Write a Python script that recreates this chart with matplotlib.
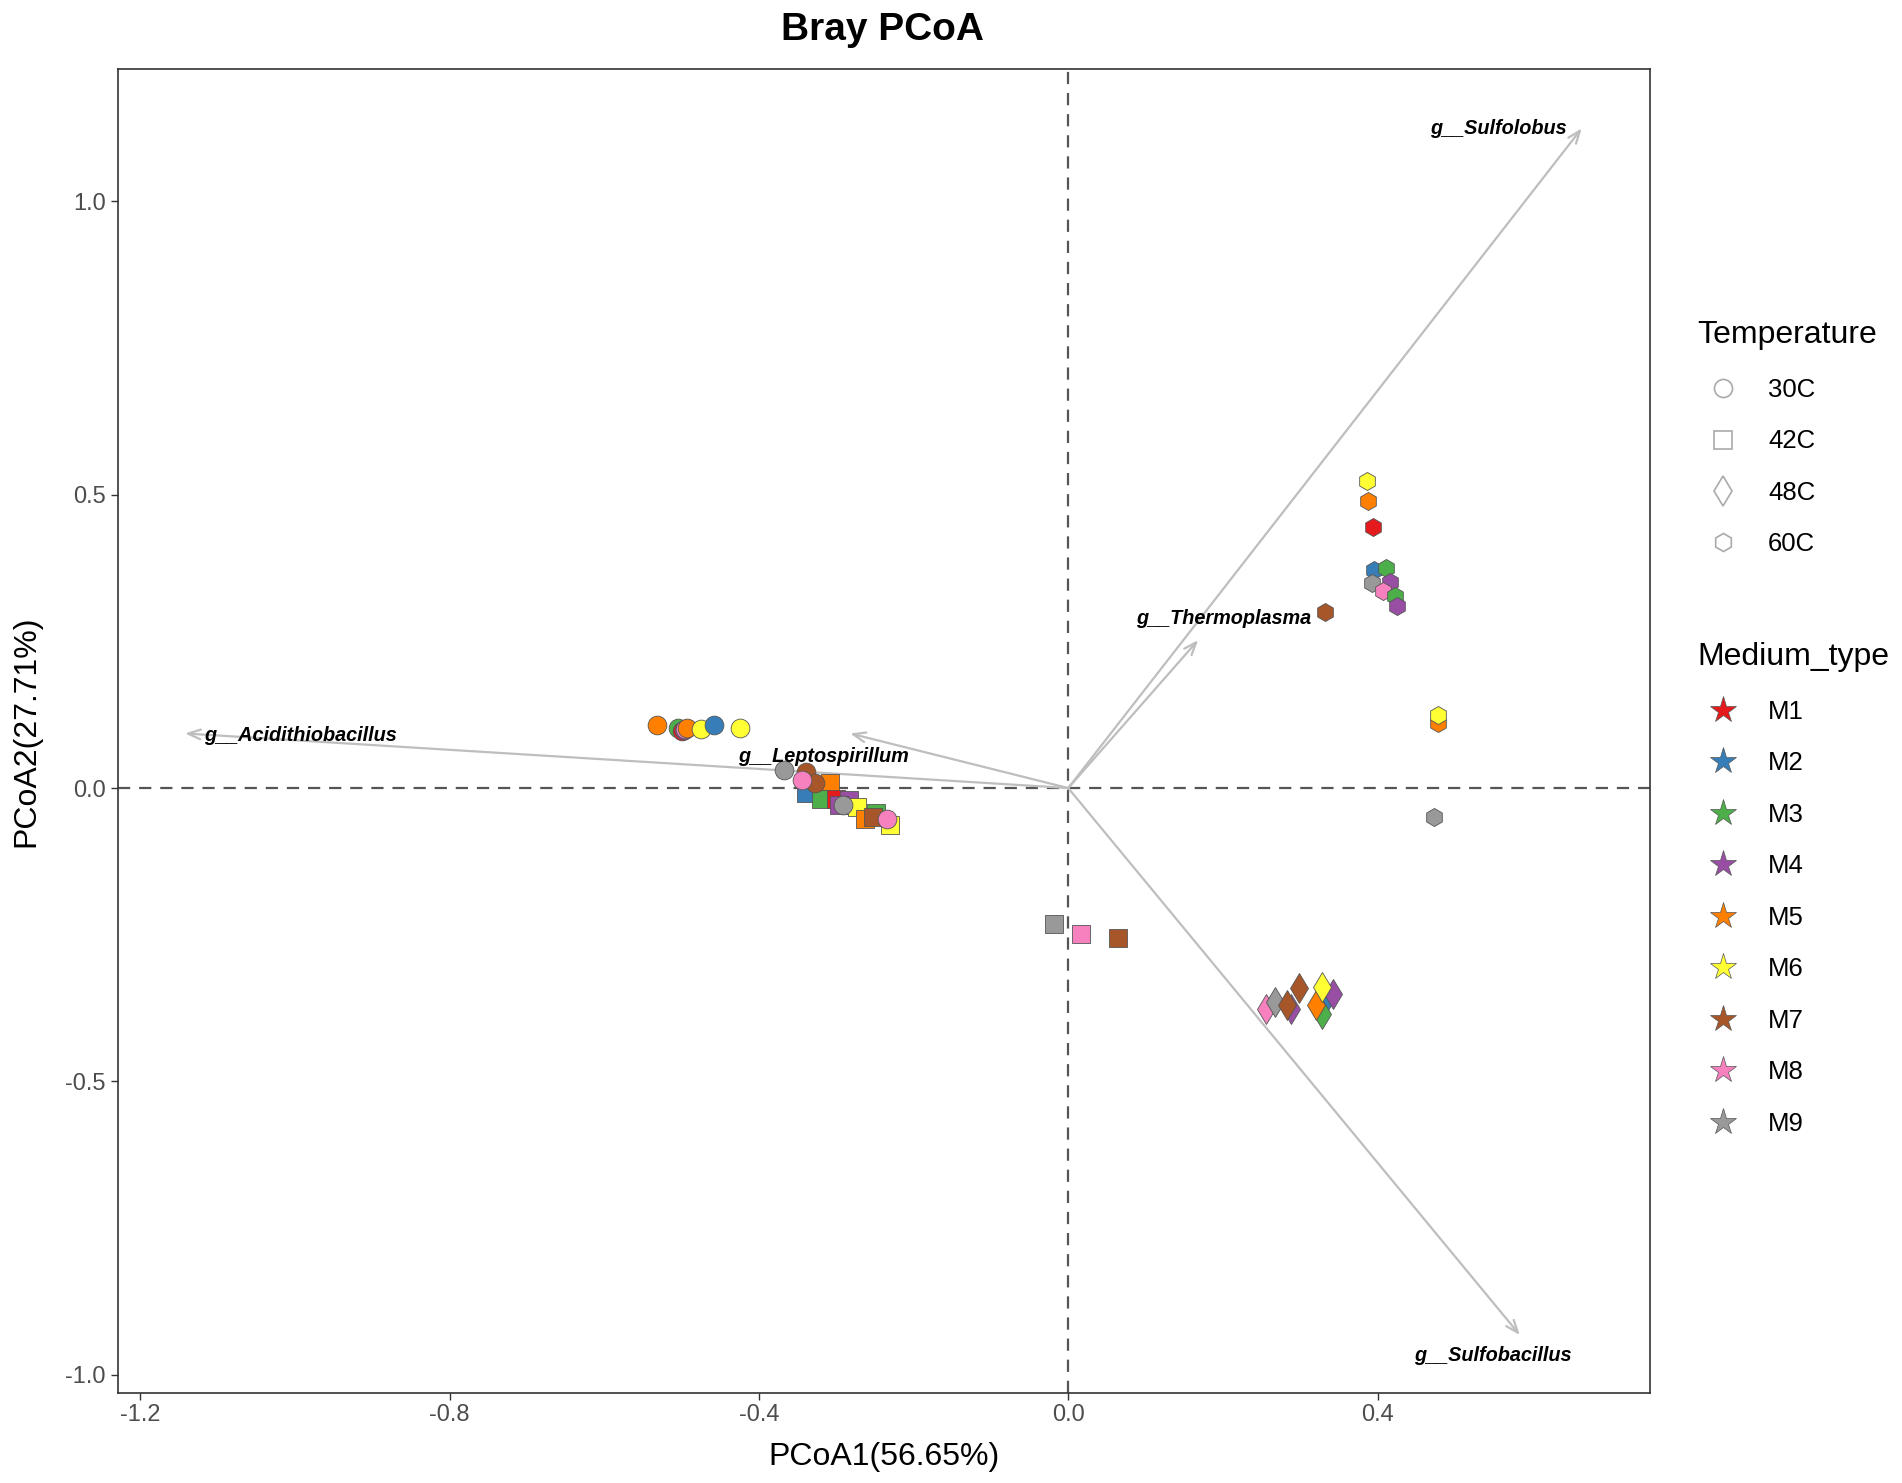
import numpy as np
import pandas as pd
import matplotlib
matplotlib.use("Agg")
import matplotlib.pyplot as plt
from matplotlib.lines import Line2D

plt.rcParams['font.family'] = ['Liberation Sans', 'DejaVu Sans']
plt.rcParams['axes.unicode_minus'] = False

# sample scores (PCoA1, PCoA2)
temp_levels = ['30C', '42C', '48C', '60C']
medium_levels = ['M1', 'M2', 'M3', 'M4', 'M5', 'M6', 'M7', 'M8', 'M9']
medium_colors = ['#E41A1C', '#377EB8', '#4DAF4A', '#984EA3', '#FF7F00',
                 '#FFFF33', '#A65628', '#F781BF', '#999999']

# 42C
sq_x = [-0.308, -0.339, -0.320, -0.300, -0.284, -0.297, -0.273, -0.263, -0.248, -0.253, -0.231, -0.019, 0.016, 0.064]
sq_y = [0.008, -0.009, -0.018, -0.018, -0.020, -0.029, -0.032, -0.052, -0.043, -0.049, -0.063, -0.231, -0.249, -0.256]
sq_m = ['M5', 'M2', 'M3', 'M1', 'M4', 'M4', 'M6', 'M5', 'M3', 'M7', 'M6', 'M9', 'M8', 'M7']

# 30C
ci_x = [-0.532, -0.504, -0.499, -0.497, -0.495, -0.493, -0.475, -0.458, -0.424, -0.368, -0.339, -0.327, -0.344, -0.291, -0.234]
ci_y = [0.107, 0.103, 0.097, 0.099, 0.100, 0.103, 0.100, 0.107, 0.102, 0.031, 0.028, 0.008, 0.014, -0.029, -0.052]
ci_m = ['M5', 'M3', 'M1', 'M4', 'M8', 'M5', 'M6', 'M2', 'M6', 'M9', 'M7', 'M7', 'M8', 'M9', 'M8']

# 48C
di_x = [0.256, 0.268, 0.288, 0.283, 0.298, 0.332, 0.342, 0.328, 0.321, 0.328]
di_y = [-0.376, -0.365, -0.376, -0.370, -0.340, -0.361, -0.351, -0.385, -0.370, -0.339]
di_m = ['M8', 'M9', 'M4', 'M7', 'M7', 'M2', 'M4', 'M3', 'M5', 'M6']

# 60C
hx_x = [0.386, 0.388, 0.394, 0.395, 0.411, 0.393, 0.416, 0.407, 0.423, 0.425, 0.332, 0.478, 0.478, 0.473]
hx_y = [0.523, 0.489, 0.444, 0.372, 0.375, 0.349, 0.351, 0.336, 0.328, 0.311, 0.300, 0.110, 0.124, -0.050]
hx_m = ['M6', 'M5', 'M1', 'M2', 'M3', 'M9', 'M4', 'M8', 'M3', 'M4', 'M7', 'M5', 'M6', 'M9']

# genus arrows (end points) and label positions
genus = ['g__Sulfolobus', 'g__Thermoplasma', 'g__Acidithiobacillus', 'g__Leptospirillum', 'g__Sulfobacillus']
arrow_x = [0.664, 0.168, -1.142, -0.282, 0.584]
arrow_y = [1.124, 0.252, 0.093, 0.093, -0.932]
label_x = [0.556, 0.201, -0.993, -0.316, 0.549]
label_y = [1.124, 0.289, 0.089, 0.053, -0.967]

df = pd.concat([
    pd.DataFrame({'x': sq_x, 'y': sq_y, 'temp': '42C', 'medium': sq_m}),
    pd.DataFrame({'x': ci_x, 'y': ci_y, 'temp': '30C', 'medium': ci_m}),
    pd.DataFrame({'x': di_x, 'y': di_y, 'temp': '48C', 'medium': di_m}),
    pd.DataFrame({'x': hx_x, 'y': hx_y, 'temp': '60C', 'medium': hx_m}),
], ignore_index=True)

temp_marker = {'30C': 'o', '42C': 's', '48C': 'd', '60C': 'h'}
temp_size = {'30C': 13.5, '42C': 12.5, '48C': 15, '60C': 13}
col = dict(zip(medium_levels, medium_colors))

fig = plt.figure(figsize=(19.02, 14.83), dpi=100)
ax = fig.add_axes([0.0619, 0.0610, 0.8055, 0.8924])

ax.axhline(0, color='#555555', lw=1.6, ls=(0, (5.5, 4)), zorder=1)
ax.axvline(0, color='#555555', lw=1.6, ls=(0, (5.5, 4)), zorder=1)

for i, r in df.iterrows():
    ax.plot(r['x'], r['y'], marker=temp_marker[r['temp']], ms=temp_size[r['temp']],
            mfc=col[r['medium']], mec='#555555', mew=0.6, ls='none', zorder=3)

for g, ex, ey, lx, ly in zip(genus, arrow_x, arrow_y, label_x, label_y):
    ax.annotate('', xy=(ex, ey), xytext=(0, 0),
                arrowprops=dict(arrowstyle='->,head_length=0.9,head_width=0.35',
                                color='#BEBEBE', lw=1.6, shrinkA=0, shrinkB=0), zorder=2)
    ax.text(lx, ly, g, fontsize=14.3, fontweight='bold', fontstyle='italic',
            ha='center', va='center', color='black', zorder=4)

ax.set_xlim(-1.229, 0.752)
ax.set_ylim(-1.030, 1.225)
ax.set_xticks([-1.2, -0.8, -0.4, 0.0, 0.4])
ax.set_yticks([-1.0, -0.5, 0.0, 0.5, 1.0])
ax.tick_params(labelsize=17, colors='#333333', labelcolor='#4D4D4D', length=5, width=1)
for s in ax.spines.values():
    s.set_color('#333333')
    s.set_linewidth(1.2)

ax.set_xlabel('PCoA1(56.65%)', fontsize=23)
ax.set_ylabel('PCoA2(27.71%)', fontsize=23)
ax.xaxis.set_label_coords(0.5, -0.037)
ax.yaxis.set_label_coords(-0.05, 0.5)
fig.text(0.464, 0.980, 'Bray PCoA', fontsize=28, fontweight='bold', ha='center', va='center')

temp_handles = [Line2D([], [], marker=temp_marker[t], ls='none', ms=13 if t != '48C' else 15,
                       mfc='none', mec='#AAAAAA', mew=1.2) for t in temp_levels]
leg1 = fig.legend(temp_handles, temp_levels, title='Temperature', loc='upper left',
                  bbox_to_anchor=(0.887, 0.791), frameon=False, fontsize=18.5,
                  title_fontsize=23, labelspacing=1.07, handletextpad=0.75,
                  borderaxespad=0, alignment='left')
leg1._legend_box.sep = 20

med_handles = [Line2D([], [], marker='*', ls='none', ms=20, mfc=c, mec='#555555', mew=0.5)
               for c in medium_colors]
leg2 = fig.legend(med_handles, medium_levels, title='Medium_type', loc='upper left',
                  bbox_to_anchor=(0.887, 0.574), frameon=False, fontsize=18.5,
                  title_fontsize=23, labelspacing=1.07, handletextpad=0.75,
                  borderaxespad=0, alignment='left')
leg2._legend_box.sep = 20

fig.savefig('out.png', dpi=100)
